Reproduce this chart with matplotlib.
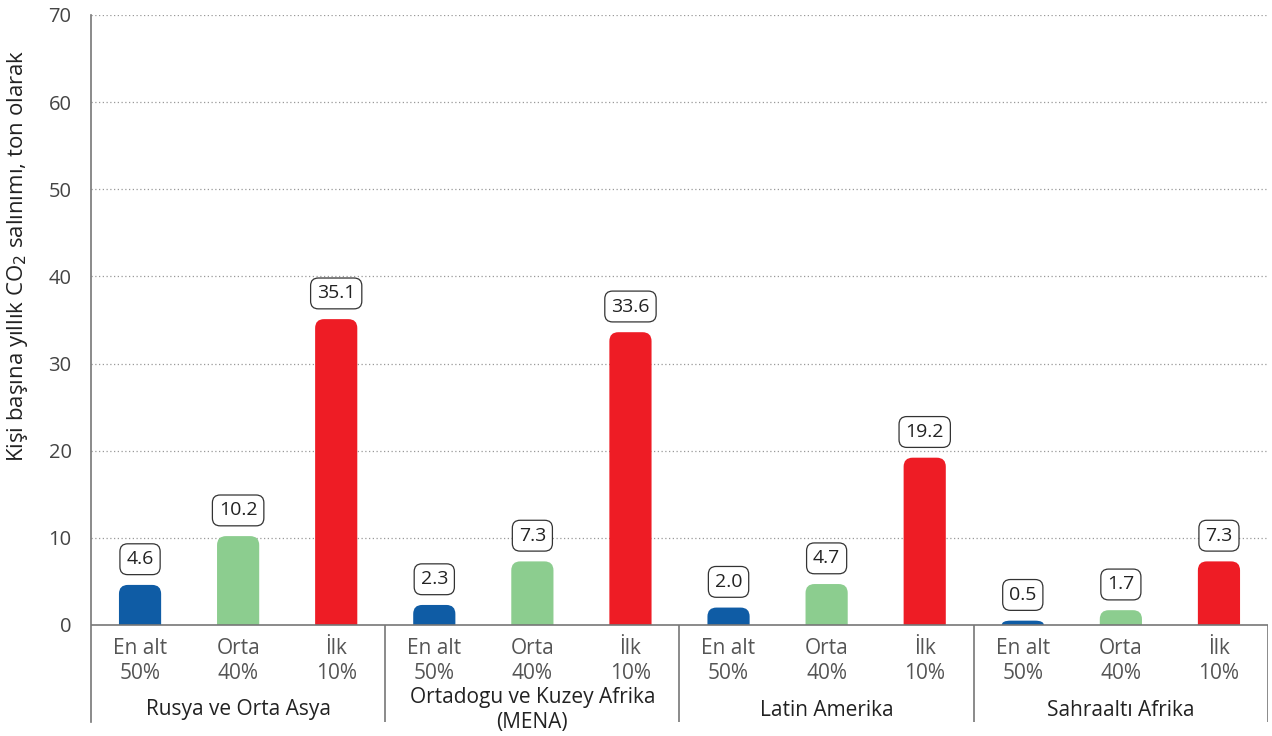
import matplotlib
matplotlib.use("Agg")
import matplotlib.pyplot as plt
from matplotlib.patches import PathPatch
from matplotlib.path import Path

plt.rcParams['font.family'] = ['Open Sans', 'DejaVu Sans']

regions = ["Rusya ve Orta Asya", "Ortadogu ve Kuzey Afrika\n(MENA)", "Latin Amerika", "Sahraaltı Afrika"]
groups = ["En alt\n50%", "Orta\n40%", "İlk\n10%"]
values = [
    [4.6, 10.2, 35.1],
    [2.3, 7.3, 33.6],
    [2.0, 4.7, 19.2],
    [0.5, 1.7, 7.3],
]
colors = ["#0f5ca5", "#8ccd8f", "#ee1c25"]
yticks = [0, 10, 20, 30, 40, 50, 60, 70]
ylabel = "Kişi başına yıllık CO$_2$ salınımı, ton olarak"

W, H = 1272, 736
fig = plt.figure(figsize=(W / 100, H / 100), dpi=100)
x0, x1 = 91, 1268
ytop, yzero, ybot = 15, 625, 722
ymin = -70 * (ybot - yzero) / (yzero - ytop)
ax = fig.add_axes([x0 / W, 1 - ybot / H, (x1 - x0) / W, (ybot - ytop) / H])
n = len(regions) * len(groups)
ax.set_xlim(-0.5, n - 0.5)
ax.set_ylim(ymin, 70)

pxx = (x1 - x0) / n
pxy = (yzero - ytop) / 70.0

for s in ["top", "right", "bottom"]:
    ax.spines[s].set_visible(False)
ax.spines["left"].set_color("#777777")
ax.spines["left"].set_linewidth(1.2)
ax.set_xticks([])
ax.set_yticks(yticks)
ax.tick_params(axis='y', length=0, pad=14, labelsize=14.5, labelcolor="#444444")

for t in yticks[1:]:
    ax.hlines(t, -0.5, n - 0.5, colors="#999999", linestyles=(0, (1, 2)), linewidth=0.9, zorder=0)
ax.hlines(0, -0.5, n - 0.5, colors="#777777", linewidth=1.2, zorder=3)


def rounded_bar(x, h, w, rpx, color):
    rx = rpx / pxx
    ry = min(rpx / pxy, h)
    l, r = x - w / 2, x + w / 2
    verts = [(l, 0), (l, h - ry), (l, h), (l + rx, h), (r - rx, h), (r, h), (r, h - ry), (r, 0), (l, 0)]
    codes = [Path.MOVETO, Path.LINETO, Path.CURVE3, Path.CURVE3, Path.LINETO,
             Path.CURVE3, Path.CURVE3, Path.LINETO, Path.CLOSEPOLY]
    ax.add_patch(PathPatch(Path(verts, codes), fc=color, ec="none", zorder=2))


def ypx(p):
    return -(p - yzero) / pxy


bw = 0.43
for gi, (reg, vals) in enumerate(zip(regions, values)):
    for bi, (v, c) in enumerate(zip(vals, colors)):
        x = gi * 3 + bi
        rounded_bar(x, v, bw, 9, c)
        ax.annotate(f"{v:.1f}", (x, v), xytext=(0, 18.5), textcoords="offset points",
                    ha="center", va="center", fontsize=14, color="#222222",
                    bbox=dict(boxstyle="round,pad=0.33,rounding_size=0.4", fc="white",
                              ec="#333333", lw=0.9))
        ax.text(x, ypx(661), groups[bi], ha="center", va="center", fontsize=15,
                color="#555555", linespacing=1.25)
    ax.text(gi * 3 + 1, ypx(710), reg, ha="center", va="center", fontsize=15,
            color="#222222", linespacing=1.25)
for b in [2.5, 5.5, 8.5, n - 0.5]:
    ax.vlines(b, ymin, 0, colors="#777777", linewidth=1.2)

fig.text(18 / W, 1 - 256 / H, ylabel, rotation=90, ha="center", va="center",
         fontsize=16, color="#222222")

fig.savefig("out.png", dpi=100)
